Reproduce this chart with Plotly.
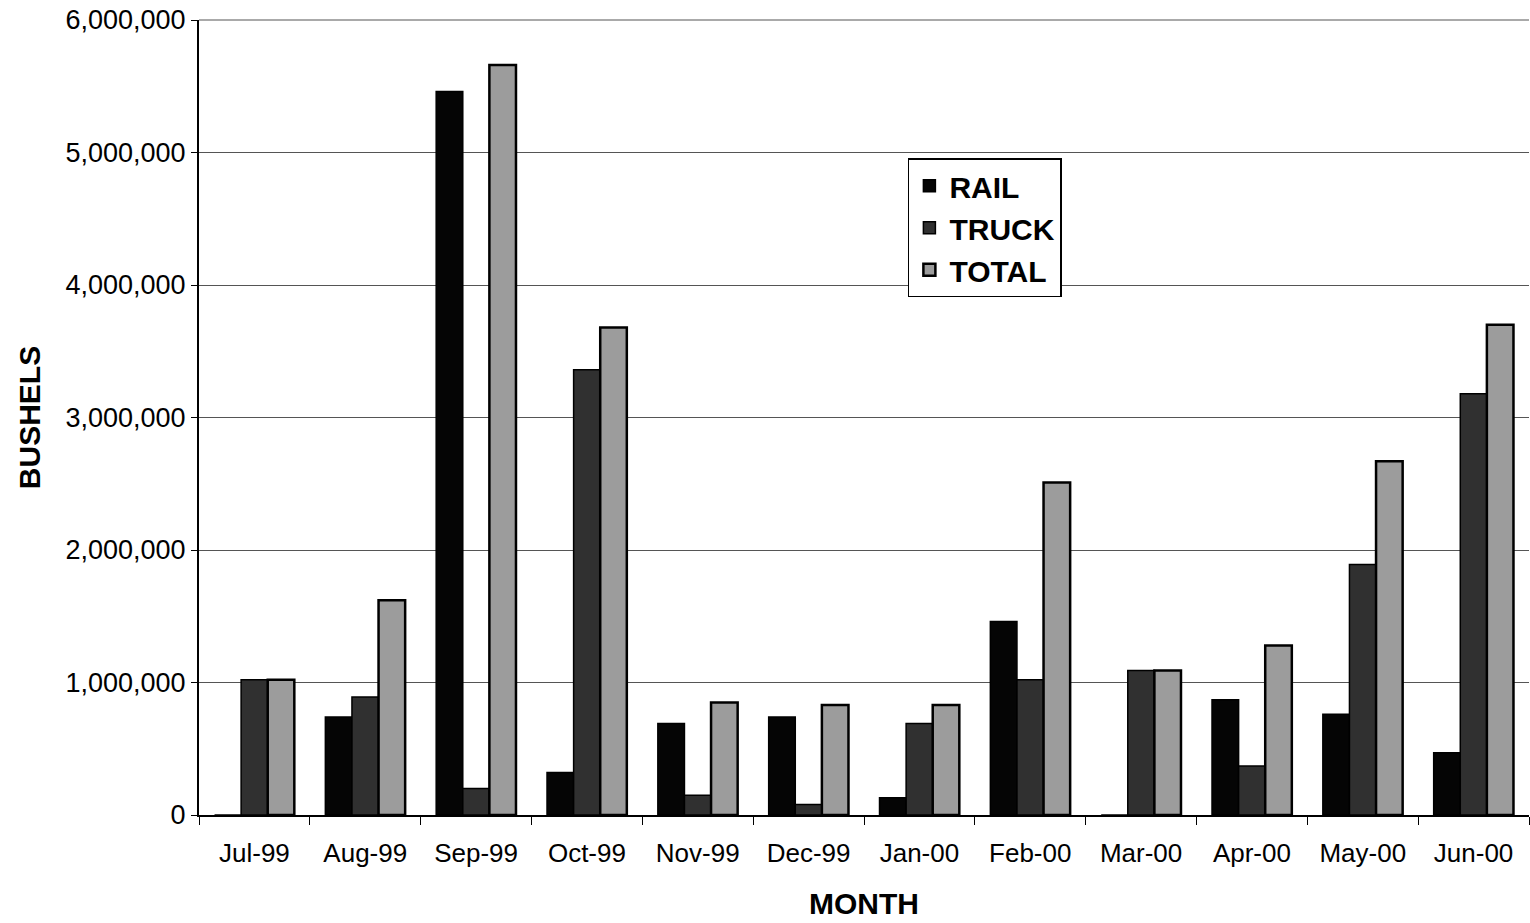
import plotly.graph_objects as go

months = ["Jul-99", "Aug-99", "Sep-99", "Oct-99", "Nov-99", "Dec-99",
          "Jan-00", "Feb-00", "Mar-00", "Apr-00", "May-00", "Jun-00"]
rail = [0, 740000, 5460000, 320000, 690000, 740000,
        130000, 1460000, 0, 870000, 760000, 470000]
truck = [1020000, 890000, 200000, 3360000, 150000, 80000,
         690000, 1020000, 1090000, 370000, 1890000, 3180000]
total = [1020000, 1620000, 5660000, 3680000, 850000, 830000,
         830000, 2510000, 1090000, 1280000, 2670000, 3700000]

fig = go.Figure()
fig.add_trace(go.Bar(name="<b>RAIL</b>", x=months, y=rail,
                     marker=dict(color="#050505", line=dict(color="black", width=1.5))))
fig.add_trace(go.Bar(name="<b>TRUCK</b>", x=months, y=truck,
                     marker=dict(color="#303030", line=dict(color="black", width=1.5))))
fig.add_trace(go.Bar(name="<b>TOTAL</b>", x=months, y=total,
                     marker=dict(color="#9c9c9c", line=dict(color="black", width=2.5))))

fig.update_layout(
    width=1530, height=923,
    barmode="group", bargap=0.28, bargroupgap=0,
    paper_bgcolor="white", plot_bgcolor="white",
    font=dict(family="Liberation Sans, Arial", size=27, color="black"),
    margin=dict(l=199, r=1, t=20, b=108),
    legend=dict(x=0.533, y=0.826, xanchor="left", yanchor="top",
                bordercolor="black", borderwidth=1.5, bgcolor="white",
                font=dict(size=30, family="Liberation Sans, Arial"),
                traceorder="normal", itemwidth=30, tracegroupgap=0),
    showlegend=True,
    # top border line at 6,000,000
    shapes=[dict(type="line", xref="paper", yref="paper", x0=0, x1=1, y0=1, y1=1,
                 line=dict(color="#555555", width=1))],
)

fig.update_xaxes(
    automargin=False,
    showline=True, linecolor="black", linewidth=2,
    ticks="outside", tickson="boundaries", ticklen=8, tickcolor="black",
    tickfont=dict(size=26), ticklabelstandoff=14,
    title=dict(text="<b>MONTH</b>", font=dict(size=30), standoff=26),
)
fig.update_yaxes(
    automargin=False,
    range=[0, 6000000], tickvals=[0, 1000000, 2000000, 3000000, 4000000, 5000000, 6000000],
    tickformat=",d",
    showline=True, linecolor="black", linewidth=2, mirror=False,
    ticks="outside", ticklen=6, tickcolor="black",
    showgrid=True, gridcolor="#555555", gridwidth=1,
    zeroline=False,
    tickfont=dict(size=27),
    title=dict(text="<b>BUSHELS</b>", font=dict(size=30), standoff=16),
)

# drop the default 8px page margin so the figure fills the window exactly
fig.write_html("out.html", config={"displayModeBar": False},
               post_script="document.body.style.margin='0';")
